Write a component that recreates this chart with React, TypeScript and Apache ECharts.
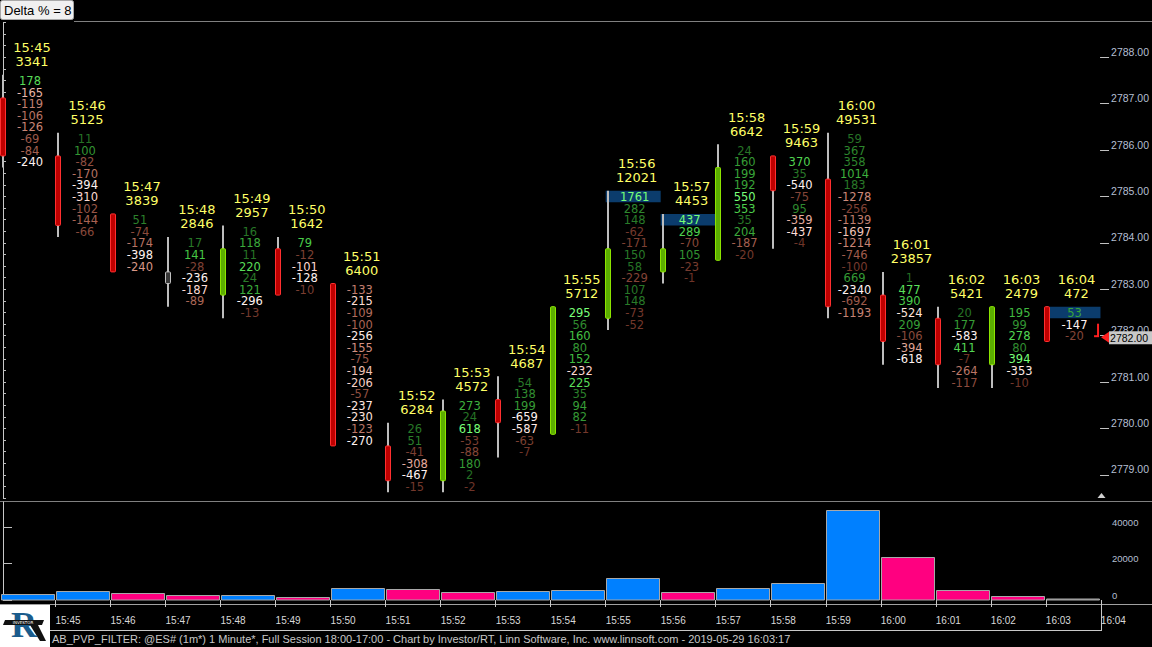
import React, { useEffect, useRef } from "react";
import * as echarts from "echarts";

// ---------------- data ----------------
const times = ["15:45", "15:46", "15:47", "15:48", "15:49", "15:50", "15:51", "15:52", "15:53", "15:54",
  "15:55", "15:56", "15:57", "15:58", "15:59", "16:00", "16:01", "16:02", "16:03", "16:04"];
const volumes = [3341, 5125, 3839, 2846, 2957, 1642, 6400, 6284, 4572, 4687,
  5712, 12021, 4453, 6642, 9463, 49531, 23857, 5421, 2479, 472];
const opens = [2787.0, 2785.75, 2784.5, 2783.25, 2783.0, 2783.75, 2783.0, 2779.5, 2779.0, 2780.5,
  2780.0, 2782.5, 2783.5, 2783.75, 2785.75, 2785.25, 2782.75, 2782.25, 2781.5, 2782.5];
const closes = [2786.0, 2784.5, 2783.5, 2783.25, 2783.75, 2783.0, 2779.75, 2779.0, 2780.25, 2780.25,
  2782.5, 2783.75, 2783.75, 2785.5, 2785.25, 2782.75, 2782.0, 2781.5, 2782.5, 2782.0];
const highs = [2787.5, 2786.25, 2784.5, 2784.0, 2784.25, 2784.0, 2783.0, 2780.0, 2780.5, 2781.0,
  2782.5, 2785.0, 2784.5, 2786.0, 2785.75, 2786.25, 2783.25, 2782.5, 2782.5, 2782.5];
const lows = [2785.75, 2784.25, 2783.5, 2782.75, 2782.5, 2783.0, 2779.75, 2778.75, 2778.75, 2779.5,
  2780.0, 2782.25, 2783.25, 2783.75, 2784.0, 2782.5, 2781.5, 2781.0, 2781.0, 2782.0];
// footprint delta per price level, listed from the bar's high down to its low
const footprint: number[][] = [
  [178, -165, -119, -106, -126, -69, -84, -240],
  [11, 100, -82, -170, -394, -310, -102, -144, -66],
  [51, -74, -174, -398, -240],
  [17, 141, -28, -236, -187, -89],
  [16, 118, 11, 220, 24, 121, -296, -13],
  [79, -12, -101, -128, -10],
  [-133, -215, -109, -100, -256, -155, -75, -194, -206, -57, -237, -230, -123, -270],
  [26, 51, -41, -308, -467, -15],
  [273, 24, 618, -53, -88, 180, 2, -2],
  [54, 138, 199, -659, -587, -63, -7],
  [295, 56, 160, 80, 152, -232, 225, 35, 94, 82, -11],
  [1761, 282, 148, -62, -171, 150, 58, -229, 107, 148, -73, -52],
  [437, 289, -70, 105, -23, -1],
  [24, 160, 199, 192, 550, 353, 35, 204, -187, -20],
  [370, 35, -540, -75, 95, -359, -437, -4],
  [59, 367, 358, 1014, 183, -1278, -256, -1139, -1697, -1214, -746, -100, 669, -2340, -692, -1193],
  [1, 477, 390, -524, 209, -106, -394, -618],
  [20, 177, -583, 411, -7, -264, -117],
  [195, 99, 278, 80, 394, -353, -10],
  [53, -147, -20],
];
// highlighted cells: [bar index, price]
const highlightCells: number[][] = [[11, 2785.0], [12, 2784.5], [19, 2782.5]];
const volumeSide = ["buy", "buy", "sell", "sell", "buy", "sell", "buy", "sell", "sell", "buy",
  "buy", "buy", "sell", "buy", "buy", "buy", "sell", "sell", "sell", "flat"];
const priceLabels = [2779, 2780, 2781, 2782, 2783, 2784, 2785, 2786, 2787, 2788];
const volumeTicks = [0, 20000, 40000];
const TICK = 0.25;

// ---------------- layout / style ----------------
const PX_PER_BAR = 55.02;
const FIRST_X = 3;
const PLOT_RIGHT = 1101;
const XMIN = -FIRST_X / PX_PER_BAR;
const XMAX = (PLOT_RIGHT - FIRST_X) / PX_PER_BAR;
const TEXT_SHIFT = 27 / PX_PER_BAR;
const HEAD_SHIFT = 29 / PX_PER_BAR;
const TIME_TICK_SHIFT = 0.954;
const VOL_LEFT = -0.045;
const VOL_RIGHT = 0.955;
const HL_LEFT = -0.036;
const HL_RIGHT = 0.964;

const VOL_COLORS: Record<string, string> = { buy: "#0080ff", sell: "#ff0080", flat: "#808080" };

const NEG_STOPS: [number, number[]][] = [
  [0, [110, 52, 40]], [0.35, [166, 96, 80]], [0.6, [216, 150, 134]], [0.8, [255, 222, 214]], [1, [255, 242, 240]],
];
const POS_STOPS: [number, number[]][] = [
  [0, [36, 110, 36]], [0.3, [54, 156, 54]], [0.6, [70, 200, 70]], [1, [120, 255, 120]],
];
function ramp(stops: [number, number[]][], r: number) {
  r = Math.max(0, Math.min(1, r));
  for (let k = 1; k < stops.length; k++) {
    if (r <= stops[k][0]) {
      const [r0, c0] = stops[k - 1];
      const [r1, c1] = stops[k];
      const t = (r - r0) / (r1 - r0);
      const c = c0.map((v, j) => Math.round(v + (c1[j] - v) * t));
      return `rgb(${c[0]},${c[1]},${c[2]})`;
    }
  }
  const c = stops[stops.length - 1][1];
  return `rgb(${c[0]},${c[1]},${c[2]})`;
}
function cellColor(v: number, maxAbs: number) {
  const r = Math.abs(v) / maxAbs;
  return v >= 0 ? ramp(POS_STOPS, r) : ramp(NEG_STOPS, r);
}

function txt(text: string, x: number, y: number, fill: string, fontSize: number, fontFamily: string, align = "center", extra: any = {}) {
  return {
    type: "text", x, y,
    style: {
      text, fill, fontSize, fontFamily,
      align, textAlign: align, verticalAlign: "middle", textVerticalAlign: "middle", ...extra,
    },
  };
}

export default function App() {
  const ref = useRef<HTMLDivElement>(null);

  useEffect(() => {
    if (!ref.current) return;
    const chart = echarts.init(ref.current, null, { renderer: "svg" });

    const candleData = times.map((_, i) => [i, opens[i], closes[i], lows[i], highs[i]]);
    const cellData: number[][] = [];
    footprint.forEach((rows, i) => {
      const maxAbs = Math.max(...rows.map((v) => Math.abs(v)));
      rows.forEach((v, k) => cellData.push([i, highs[i] - k * TICK, v, maxAbs]));
    });
    const headData = times.map((_, i) => [i, highs[i], volumes[i]]);
    const volData = volumes.map((v, i) => [i, v]);
    const last = times.length - 1;
    const timeTickValues = times.map((_, k) => k + TIME_TICK_SHIFT);

    const axisLabelColor = "#b4bfd2";

    const option: any = {
      backgroundColor: "#000000",
      animation: false,
      grid: [
        { left: 0, top: 22.5, width: PLOT_RIGHT, height: 475.6 },
        { left: 0, top: 502, width: PLOT_RIGHT, height: 98 },
      ],
      xAxis: [
        { type: "value", gridIndex: 0, min: XMIN, max: XMAX, show: false },
        {
          type: "value", gridIndex: 1, min: XMIN, max: XMAX, offset: 4,
          axisLine: { show: false }, splitLine: { show: false },
          axisTick: { show: true, customValues: timeTickValues, length: 7, lineStyle: { color: "#c8c8c8" } },
          axisLabel: {
            customValues: timeTickValues,
            formatter: (v: number) => times[Math.round(v - TIME_TICK_SHIFT)] ?? "",
            align: "left", margin: 11, color: "#d8d8d8", fontSize: 10, fontFamily: "Liberation Sans",
          },
        },
      ],
      yAxis: [
        {
          type: "value", gridIndex: 0, position: "right", min: 2778.5, max: 2788.75, interval: TICK,
          axisLine: { show: true, lineStyle: { color: "#c8c8c8" } },
          axisTick: { show: true, length: 3, lineStyle: { color: "#c0c0c0" } },
          axisLabel: { show: false }, splitLine: { show: false },
        },
        {
          type: "value", gridIndex: 0, position: "right", min: 2778.5, max: 2788.75,
          axisLine: { show: false }, splitLine: { show: false },
          axisTick: { show: true, length: 9, customValues: priceLabels, lineStyle: { color: "#c0c0c0" } },
          axisLabel: {
            customValues: priceLabels, formatter: (v: number) => v.toFixed(2),
            color: axisLabelColor, fontSize: 10.5, fontFamily: "Liberation Sans", margin: 11,
            verticalAlign: "bottom", lineHeight: 11,
          },
        },
        {
          type: "value", gridIndex: 1, position: "right", min: 0, max: 54000,
          axisLine: { show: true, lineStyle: { color: "#c8c8c8" } }, splitLine: { show: false },
          axisTick: { show: true, length: 9, customValues: volumeTicks, lineStyle: { color: "#c0c0c0" } },
          axisLabel: {
            customValues: volumeTicks, formatter: (v: number) => String(v),
            color: axisLabelColor, fontSize: 9.5, fontFamily: "Liberation Sans", margin: 11,
            verticalAlign: "bottom", lineHeight: 10,
          },
        },
      ],
      series: [
        {
          type: "custom", name: "highlight", xAxisIndex: 0, yAxisIndex: 0, clip: false,
          data: highlightCells,
          renderItem: (params: any, api: any) => {
            const i = api.value(0), p = api.value(1);
            const [x0, y0] = api.coord([i + HL_LEFT, p + TICK / 2]);
            const [x1, y1] = api.coord([i + HL_RIGHT, p - TICK / 2]);
            return { type: "rect", shape: { x: x0, y: y0, width: x1 - x0, height: y1 - y0 }, style: { fill: "#0b3c6c" } };
          },
        },
        {
          type: "custom", name: "candles", xAxisIndex: 0, yAxisIndex: 0, clip: false,
          data: candleData,
          renderItem: (params: any, api: any) => {
            const i = api.value(0), o = api.value(1), c = api.value(2), l = api.value(3), h = api.value(4);
            const half = api.size([0, TICK / 2])[1];
            const x = Math.round(api.coord([i, h])[0]);
            const yH = api.coord([i, h])[1] - half;
            const yL = api.coord([i, l])[1] + half;
            const yTop = api.coord([i, Math.max(o, c)])[1] - half;
            const yBot = api.coord([i, Math.min(o, c)])[1] + half;
            const st = c > o ? { fill: "#5cae00", stroke: "#8ce400" }
              : c < o ? { fill: "#c00000", stroke: "#ff3030" }
              : { fill: "#383838", stroke: "#c0c0c0" };
            return {
              type: "group",
              children: [
                { type: "rect", shape: { x: x - 1, y: yH, width: 2, height: yL - yH }, style: { fill: "#bdbdbd" } },
                { type: "rect", shape: { x: x - 2.5, y: yTop, width: 5, height: yBot - yTop, r: 1 }, style: { fill: st.fill, stroke: st.stroke, lineWidth: 1 } },
              ],
            };
          },
        },
        {
          type: "custom", name: "footprint", xAxisIndex: 0, yAxisIndex: 0, clip: false,
          data: cellData,
          renderItem: (params: any, api: any) => {
            const i = api.value(0), p = api.value(1), v = api.value(2), m = api.value(3);
            const [x, y] = api.coord([i + TEXT_SHIFT, p]);
            return txt(String(v), x, y + 0.5, cellColor(v, m), 11.5, "DejaVu Sans", "center", { lineHeight: 11 });
          },
        },
        {
          type: "custom", name: "heads", xAxisIndex: 0, yAxisIndex: 0, clip: false,
          data: headData,
          renderItem: (params: any, api: any) => {
            const i = api.value(0), h = api.value(1), vol = api.value(2);
            const [x, y] = api.coord([i + HEAD_SHIFT, h]);
            return {
              type: "group",
              children: [
                txt(times[params.dataIndex], x, y - 33, "#ffff66", 13, "DejaVu Sans", "center", { lineHeight: 13 }),
                txt(String(vol), x, y - 19, "#ffff66", 13, "DejaVu Sans", "center", { lineHeight: 13 }),
              ],
            };
          },
        },
        {
          type: "custom", name: "volume", xAxisIndex: 1, yAxisIndex: 2, clip: false,
          data: volData,
          renderItem: (params: any, api: any) => {
            const i = api.value(0), v = api.value(1);
            const [x0, y0] = api.coord([i + VOL_LEFT, v]);
            const [x1, yb] = api.coord([i + VOL_RIGHT, 0]);
            const left = Math.round(x0) + 0.5;
            const right = Math.round(x1) - 1.5;
            const top = Math.min(Math.round(y0) + 0.5, yb - 1);
            return {
              type: "rect",
              shape: { x: left, y: top, width: right - left, height: yb - top },
              style: { fill: VOL_COLORS[volumeSide[params.dataIndex]], stroke: "#a8a8a8", lineWidth: 1 },
            };
          },
        },
        {
          type: "custom", name: "lastPrice", xAxisIndex: 0, yAxisIndex: 0, clip: false, z: 10,
          data: [[last, closes[last]]],
          renderItem: (params: any, api: any) => {
            const p = api.value(1);
            const cy = api.coord([api.value(0), p])[1];
            const r = params.coordSys.x + params.coordSys.width;
            return {
              type: "group",
              children: [
                { type: "rect", shape: { x: r - 3, y: cy - 12, width: 2, height: 13 }, style: { fill: "#ff2020" } },
                { type: "rect", shape: { x: r - 6, y: cy - 0.5, width: 5, height: 2 }, style: { fill: "#ff2020" } },
                { type: "polygon", shape: { points: [[r + 1, cy + 1.5], [r + 9, cy - 4], [r + 9, cy + 7]] }, style: { fill: "#ff2020" } },
                { type: "rect", shape: { x: r + 9, y: cy - 4.5, width: 43, height: 13 }, style: { fill: "#c8c8c8" } },
                txt(p.toFixed(2), r + 10, cy + 2, "#000000", 10.5, "Liberation Sans", "left", { lineHeight: 11 }),
              ],
            };
          },
        },
      ],
      graphic: [
        { type: "rect", shape: { x: 0.5, y: 0.5, width: 73, height: 19, r: 2 }, style: { fill: "#f0f0f0", stroke: "#a8a8a8" } },
        txt("Delta % = 8", 4, 10.5, "#000000", 13, "Liberation Sans", "left"),
        { type: "line", shape: { x1: 74, y1: 21.5, x2: 1152, y2: 21.5 }, style: { stroke: "#808080", lineWidth: 1 } },
        { type: "line", shape: { x1: 0, y1: 501.5, x2: 1152, y2: 501.5 }, style: { stroke: "#808080", lineWidth: 1 } },
        { type: "line", shape: { x1: 0, y1: 604.5, x2: 1152, y2: 604.5 }, style: { stroke: "#a0a0a0", lineWidth: 1 } },
        { type: "line", shape: { x1: 50, y1: 630.5, x2: 1101, y2: 630.5 }, style: { stroke: "#c8c8c8", lineWidth: 1 } },
        { type: "line", shape: { x1: 1101.5, y1: 604, x2: 1101.5, y2: 631 }, style: { stroke: "#c8c8c8", lineWidth: 1 } },
        { type: "polygon", shape: { points: [[1097.5, 498], [1101.5, 493], [1105.5, 498]] }, style: { fill: "#d0d0d0" } },
        // logo
        { type: "rect", shape: { x: 0, y: 605, width: 50, height: 42 }, style: { fill: "#ffffff" } },
        txt("R", 24, 625, "#1b5c8c", 36, "Liberation Serif", "center", { fontWeight: "bold", lineHeight: 36 }),
        { type: "polygon", shape: { points: [[5, 620], [44, 620], [42, 625], [3, 625]] }, style: { fill: "#111111" } },
        { type: "polygon", shape: { points: [[30, 625], [38, 625], [46, 641], [40, 641]] }, style: { fill: "#111111" } },
        txt("INVESTOR", 23, 622.5, "#ffffff", 4, "DejaVu Sans", "center", { lineHeight: 4 }),
        // footer
        txt("AB_PVP_FILTER: @ES# (1m*) 1 Minute*, Full Session 18:00-17:00 - Chart by Investor/RT, Linn Software, Inc. www.linnsoft.com - 2019-05-29 16:03:17",
          52, 639, "#c8c8c8", 11, "Liberation Sans", "left"),
      ],
    };

    chart.setOption(option);
    return () => chart.dispose();
  }, []);

  return (
    <div
      ref={ref}
      style={{ position: "fixed", left: 0, top: 0, width: 1152, height: 647, background: "#000" }}
    />
  );
}
